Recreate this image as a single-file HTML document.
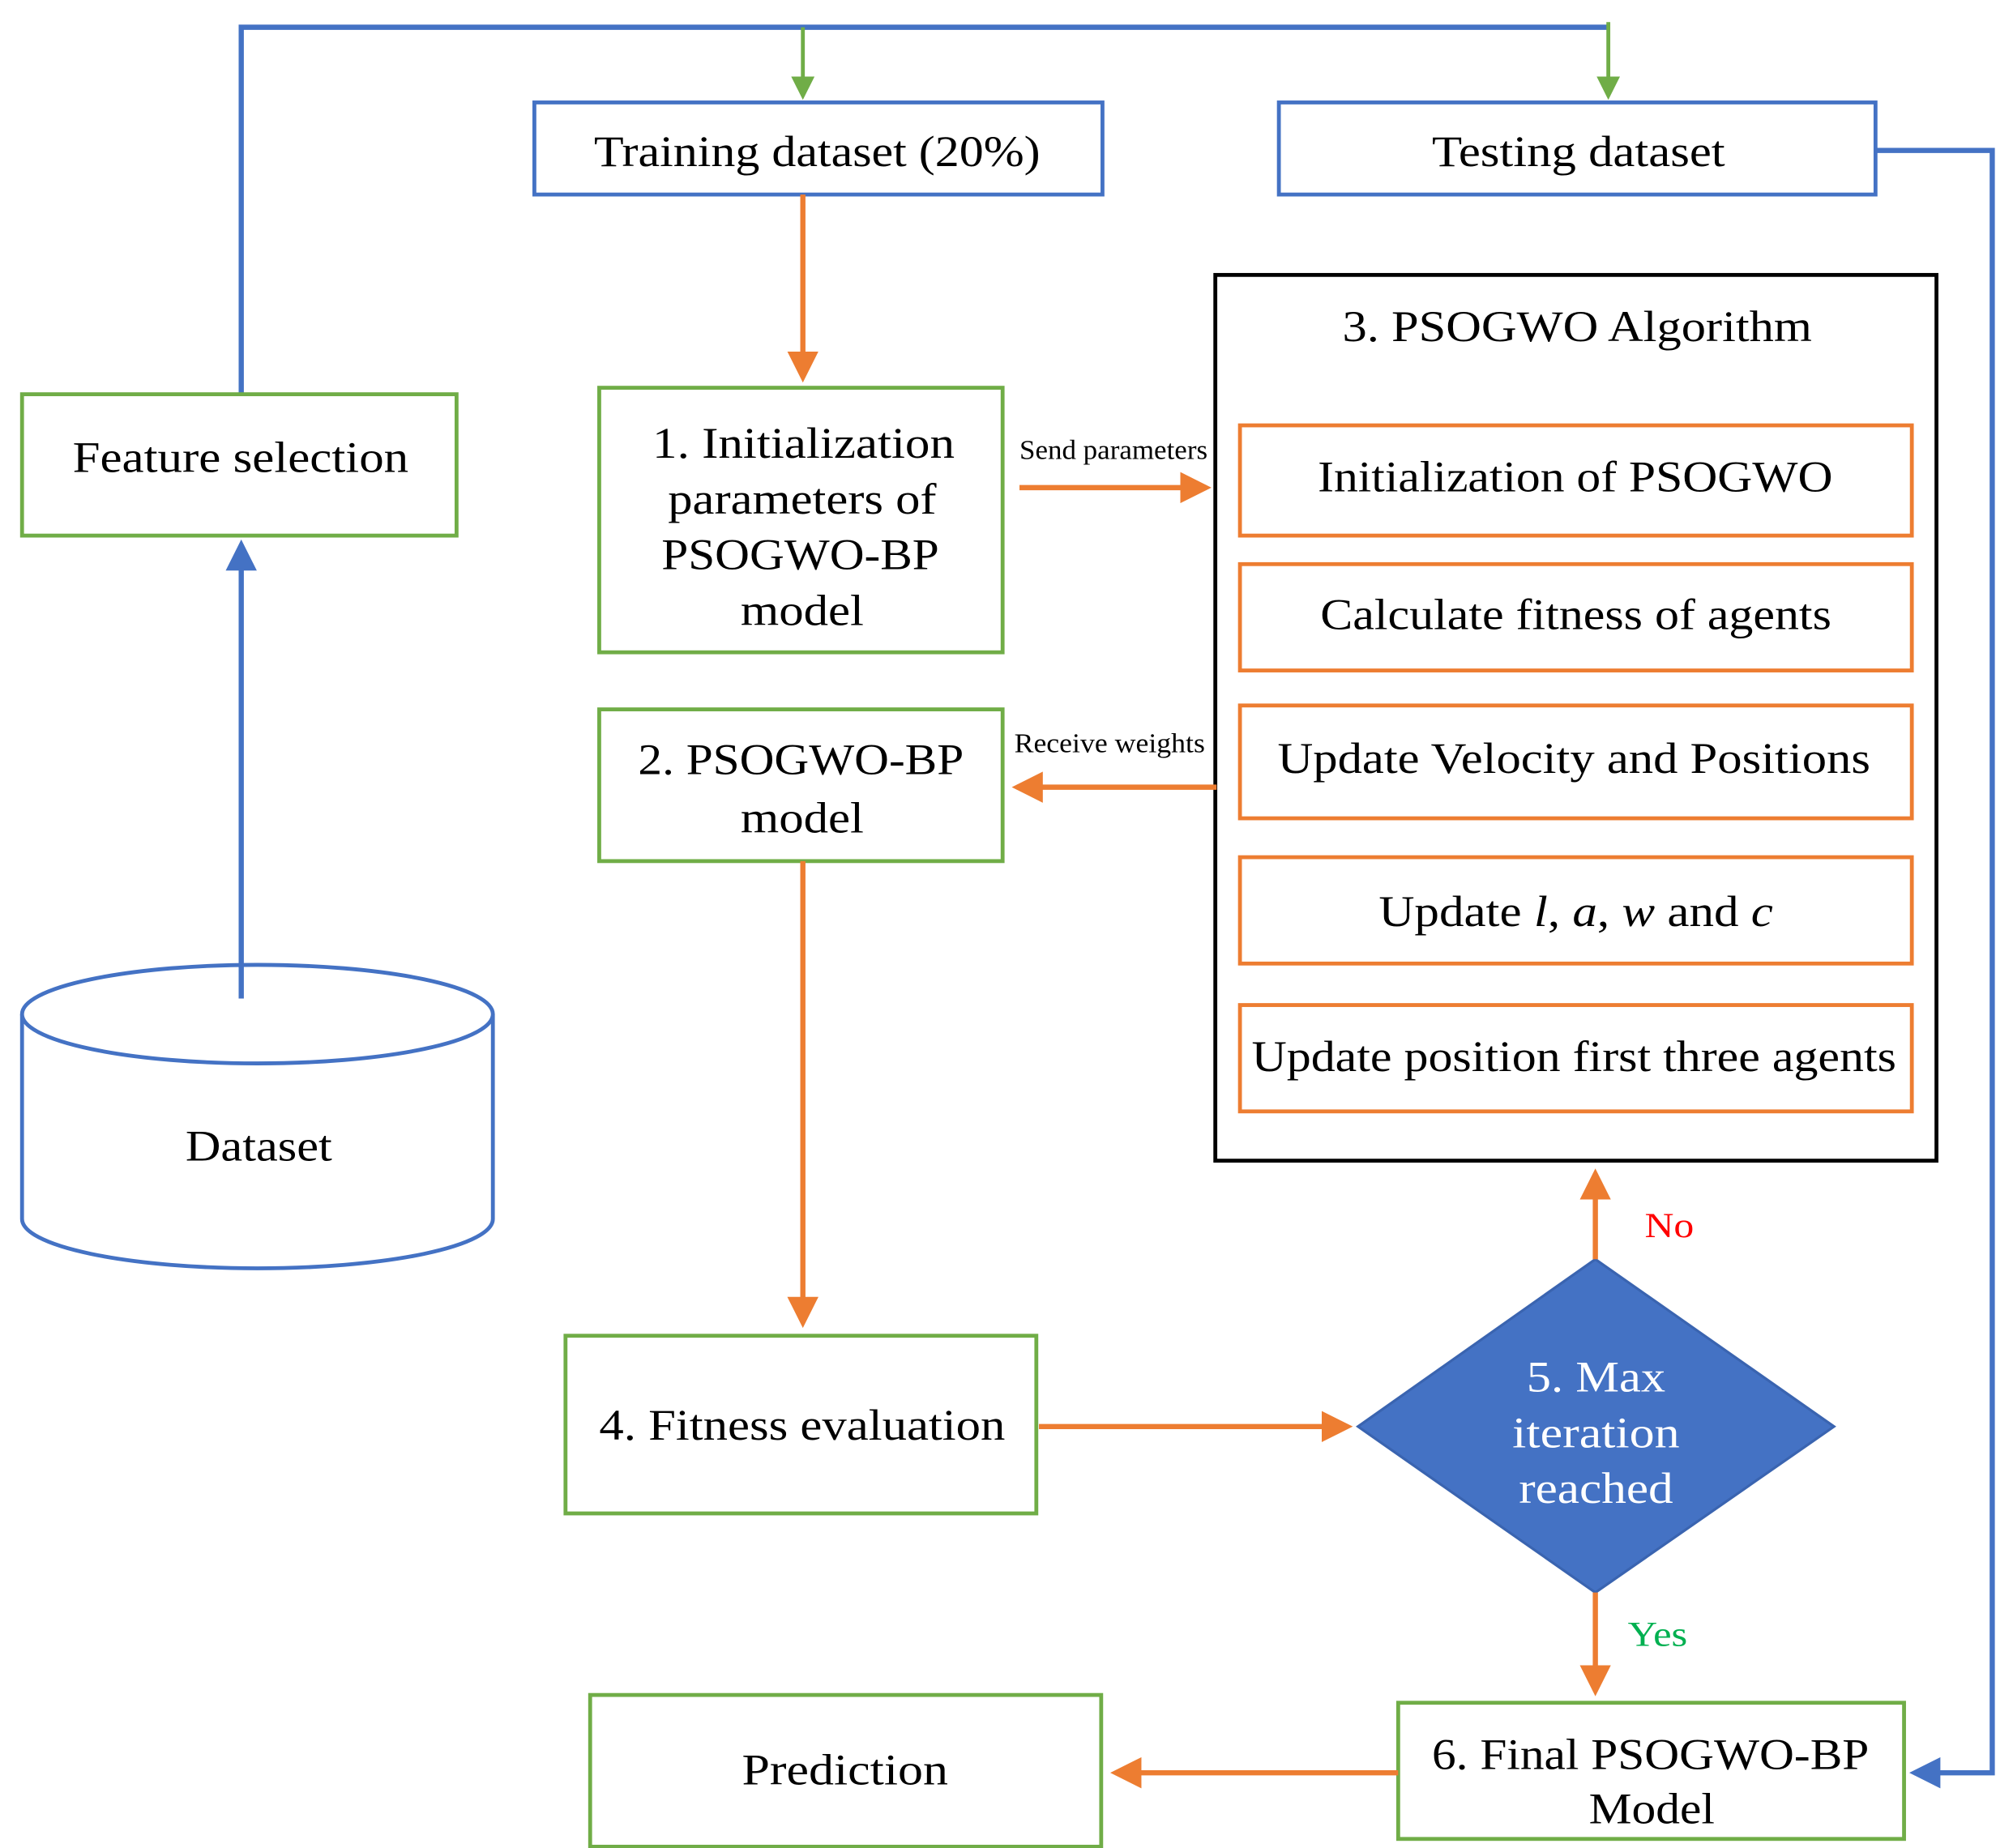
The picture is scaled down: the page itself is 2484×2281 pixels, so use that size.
<!DOCTYPE html>
<html><head><meta charset="utf-8"><style>
html,body{margin:0;padding:0;background:#fff;}
svg{display:block;}
text{font-family:"Liberation Serif",serif;}
</style></head><body>
<svg width="2484" height="2281" viewBox="0 0 1552 1425" preserveAspectRatio="none" xmlns="http://www.w3.org/2000/svg">
<defs>
<marker id="ao" markerWidth="6" markerHeight="6" refX="5" refY="3" orient="auto" markerUnits="strokeWidth"><path d="M0,0 L6,3 L0,6 Z" fill="#ED7D31"/></marker>
<marker id="ab" markerWidth="6" markerHeight="6" refX="5" refY="3" orient="auto" markerUnits="strokeWidth"><path d="M0,0 L6,3 L0,6 Z" fill="#4472C4"/></marker>
<marker id="ag" markerWidth="6" markerHeight="6" refX="5" refY="3" orient="auto" markerUnits="strokeWidth"><path d="M0,0 L6,3 L0,6 Z" fill="#70AD47"/></marker>
</defs>
<g fill="none" stroke-width="3">
<polyline points="186,303 186,21 1240,21" stroke="#4472C4" stroke-width="4"/>
<line x1="186" y1="752" x2="186" y2="420" stroke="#4472C4" stroke-width="4" marker-end="url(#ab)"/>
<polyline points="1446,116 1536,116 1536,1367 1476,1367" stroke="#4472C4" stroke-width="4" marker-end="url(#ab)"/>
<line x1="619" y1="21" x2="619" y2="74" stroke="#70AD47" stroke-width="3" marker-end="url(#ag)"/>
<line x1="1240" y1="17" x2="1240" y2="74" stroke="#70AD47" stroke-width="3" marker-end="url(#ag)"/>
<rect x="412" y="79" width="438" height="71" stroke="#4472C4"/>
<rect x="986" y="79" width="460" height="71" stroke="#4472C4"/>
<rect x="17" y="304" width="335" height="109" stroke="#70AD47"/>
<rect x="462" y="299" width="311" height="204" stroke="#70AD47"/>
<rect x="462" y="547" width="311" height="117" stroke="#70AD47"/>
<rect x="436" y="1030" width="363" height="137" stroke="#70AD47"/>
<rect x="1078" y="1313" width="390" height="105" stroke="#70AD47"/>
<rect x="455" y="1307" width="394" height="117" stroke="#70AD47"/>
<rect x="937" y="212" width="556" height="683" stroke="#000"/>
<rect x="956" y="328" width="518" height="85" stroke="#ED7D31"/>
<rect x="956" y="435" width="518" height="82" stroke="#ED7D31"/>
<rect x="956" y="544" width="518" height="87" stroke="#ED7D31"/>
<rect x="956" y="661" width="518" height="82" stroke="#ED7D31"/>
<rect x="956" y="775" width="518" height="82" stroke="#ED7D31"/>
<path d="M17,782 L17,940 A181.5,38 0 0 0 380,940 L380,782" stroke="#4472C4"/>
<ellipse cx="198.5" cy="782" rx="181.5" ry="38" stroke="#4472C4" fill="#fff"/>
<line x1="186" y1="745" x2="186" y2="770" stroke="#4472C4" stroke-width="4"/>
<polygon points="1230,971 1414,1100 1230,1228 1047,1100" fill="#4472C4" stroke="#3A64B0" stroke-width="2"/>
<line x1="619" y1="150" x2="619" y2="291" stroke="#ED7D31" stroke-width="4" marker-end="url(#ao)"/>
<line x1="786" y1="376" x2="930" y2="376" stroke="#ED7D31" stroke-width="4" marker-end="url(#ao)"/>
<line x1="938" y1="607" x2="784" y2="607" stroke="#ED7D31" stroke-width="4" marker-end="url(#ao)"/>
<line x1="619" y1="664" x2="619" y2="1020" stroke="#ED7D31" stroke-width="4" marker-end="url(#ao)"/>
<line x1="801" y1="1100" x2="1039" y2="1100" stroke="#ED7D31" stroke-width="4" marker-end="url(#ao)"/>
<line x1="1230" y1="971" x2="1230" y2="905" stroke="#ED7D31" stroke-width="4" marker-end="url(#ao)"/>
<line x1="1230" y1="1228" x2="1230" y2="1304" stroke="#ED7D31" stroke-width="4" marker-end="url(#ao)"/>
<line x1="1078" y1="1367" x2="860" y2="1367" stroke="#ED7D31" stroke-width="4" marker-end="url(#ao)"/>
</g>
<g font-size="34" fill="#000" lengthAdjust="spacingAndGlyphs">
<text x="458" y="128" textLength="344" lengthAdjust="spacingAndGlyphs">Training dataset (20%)</text>
<text x="1104" y="128" textLength="226" lengthAdjust="spacingAndGlyphs">Testing dataset</text>
<text x="56" y="364" textLength="259" lengthAdjust="spacingAndGlyphs">Feature selection</text>
<text x="143" y="895" textLength="113" lengthAdjust="spacingAndGlyphs">Dataset</text>
<text x="503" y="353" textLength="233" lengthAdjust="spacingAndGlyphs">1. Initialization</text>
<text x="515" y="396" textLength="207" lengthAdjust="spacingAndGlyphs">parameters of</text>
<text x="510" y="439" textLength="214" lengthAdjust="spacingAndGlyphs">PSOGWO-BP</text>
<text x="571" y="482" textLength="95" lengthAdjust="spacingAndGlyphs">model</text>
<text x="492" y="597" textLength="251" lengthAdjust="spacingAndGlyphs">2. PSOGWO-BP</text>
<text x="571" y="642" textLength="95" lengthAdjust="spacingAndGlyphs">model</text>
<text x="1035" y="263" textLength="362" lengthAdjust="spacingAndGlyphs">3. PSOGWO Algorithm</text>
<text x="1016" y="379" textLength="397" lengthAdjust="spacingAndGlyphs">Initialization of PSOGWO</text>
<text x="1018" y="485" textLength="394" lengthAdjust="spacingAndGlyphs">Calculate fitness of agents</text>
<text x="985" y="596" textLength="457" lengthAdjust="spacingAndGlyphs">Update Velocity and Positions</text>
<text x="1063" y="714" textLength="304" lengthAdjust="spacingAndGlyphs">Update <tspan font-style="italic">l</tspan>, <tspan font-style="italic">a</tspan>, <tspan font-style="italic">w</tspan> and <tspan font-style="italic">c</tspan></text>
<text x="965" y="826" textLength="497" lengthAdjust="spacingAndGlyphs">Update position first three agents</text>
<text x="462" y="1110" textLength="313" lengthAdjust="spacingAndGlyphs">4. Fitness evaluation</text>
<text x="1177" y="1073" fill="#fff" textLength="107" lengthAdjust="spacingAndGlyphs">5. Max</text>
<text x="1166" y="1116" fill="#fff" textLength="129" lengthAdjust="spacingAndGlyphs">iteration</text>
<text x="1171" y="1159" fill="#fff" textLength="119" lengthAdjust="spacingAndGlyphs">reached</text>
<text x="1104" y="1364" textLength="337" lengthAdjust="spacingAndGlyphs">6. Final PSOGWO-BP</text>
<text x="1225" y="1406" textLength="97" lengthAdjust="spacingAndGlyphs">Model</text>
<text x="572" y="1376" textLength="159" lengthAdjust="spacingAndGlyphs">Prediction</text>
<text x="786" y="354" font-size="21" textLength="145" lengthAdjust="spacingAndGlyphs">Send parameters</text>
<text x="782" y="580" font-size="21" textLength="147" lengthAdjust="spacingAndGlyphs">Receive  weights</text>
<text x="1268" y="954" font-size="27" fill="#FF0000" textLength="38" lengthAdjust="spacingAndGlyphs">No</text>
<text x="1255" y="1269" font-size="27" fill="#00B050" textLength="46" lengthAdjust="spacingAndGlyphs">Yes</text>
</g>
</svg>
</body></html>
